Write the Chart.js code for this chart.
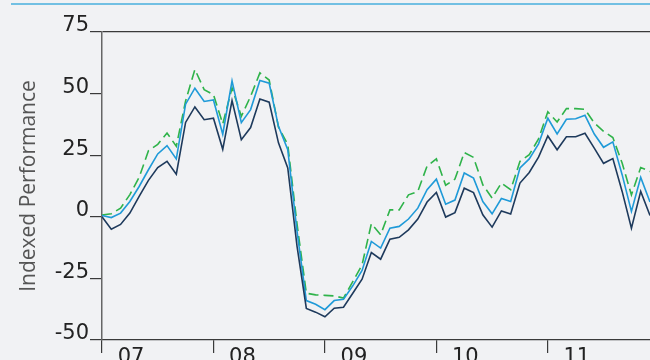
<!DOCTYPE html>
<html>
<head>
<meta charset="utf-8">
<script src="https://cdn.jsdelivr.net/npm/chart.js@4.4.1/dist/chart.umd.min.js"></script>
<style>
  html, body { margin: 0; padding: 0; background: #f1f2f4; overflow: hidden; }
  #wrap { position: relative; width: 650px; height: 360px; }
  #topline { position: absolute; left: 11px; right: 0; top: 3px; height: 0; border-top: 2px solid #72c0e3; }
  canvas { position: absolute; left: 0; top: 0; }
</style>
</head>
<body>
<div id="wrap">
  <div id="topline"></div>
  <canvas id="c" width="650" height="360"></canvas>
</div>
<script>
const years = ['07', '08', '09', '10', '11'];
const months = years.flatMap(y => ['01','02','03','04','05','06','07','08','09','10','11','12'].map(m => y + '-' + m));
const yTicks = [75, 50, 25, 0, -25, -50];

const seriesDark = [
  0, -5.0, -3.1, 1.5, 8.3, 14.8, 20.0, 22.5, 17.3, 38.3, 44.6, 39.4,
  40.0, 27.4, 47.2, 31.3, 36.2, 47.8, 46.5, 30.0, 19.8, -12, -37.2, -38.7,
  -40.6, -37.1, -36.7, -31.0, -25.3, -14.5, -17.2, -9.1, -8.3, -5.3, -0.9, 6.0,
  9.9, -0.1, 1.7, 11.6, 9.8, 0.8, -4.2, 2.4, 1.1, 13.7, 18.0, 24.2,
  32.8, 27.2, 32.5, 32.5, 33.9, 27.9, 21.7, 23.6, 10.3, -4.6, 10.3, 0.5
];
const seriesBlue = [
  0.5, -0.3, 1.5, 6.2, 12.3, 19.1, 25.5, 28.9, 23.5, 45.7, 52.2, 46.8,
  47.4, 33.5, 55.2, 38.2, 43.5, 55.3, 54.2, 36.7, 27.2, -6, -34.0, -35.5,
  -37.7, -34.0, -33.5, -28.0, -21.8, -10.0, -12.7, -4.6, -3.9, -0.9, 3.5, 11.0,
  15.3, 5.1, 6.8, 17.8, 15.7, 6.2, 1.2, 7.4, 6.2, 19.8, 23.5, 29.6,
  40.0, 33.6, 39.6, 39.8, 41.2, 33.6, 28.2, 30.4, 17.1, 2.2, 16.0, 6.0
];
const seriesGreen = [
  0.7, 1.2, 3.5, 9.0, 16.0, 26.8, 29.4, 34.0, 28.6, 47.0, 59.8, 51.6,
  49.6, 37.7, 52.3, 40.8, 48.9, 58.4, 55.5, 36.4, 29.3, -3, -31.0, -31.7,
  -31.9, -32.1, -33.0, -26.3, -19.5, -2.8, -7.3, 2.8, 2.8, 8.9, 10.3, 20.6,
  23.5, 12.8, 15.3, 26.1, 24.1, 13.0, 7.6, 13.7, 11.0, 22.5, 25.2, 31.6,
  42.6, 38.5, 43.9, 43.9, 43.6, 38.1, 34.7, 32.2, 21.8, 8.9, 20.0, 18.4
];

const axisColor = '#3a3a3a';
const tickFont = { family: 'DejaVu Sans', size: 21 };

new Chart(document.getElementById('c'), {
  type: 'line',
  data: {
    labels: months,
    datasets: [
      { data: seriesDark, borderColor: '#1e3a5c', borderWidth: 1.6, pointRadius: 0, tension: 0, fill: false },
      { data: seriesBlue, borderColor: '#1f9ad8', borderWidth: 1.6, pointRadius: 0, tension: 0, fill: false },
      { data: seriesGreen, borderColor: '#2fb34a', borderWidth: 1.6, borderDash: [10, 5], pointRadius: 0, tension: 0, fill: false }
    ]
  },
  options: {
    responsive: false,
    animation: false,
    events: [],
    layout: { padding: { top: 32, right: 0, left: 0, bottom: 0 } },
    plugins: { legend: { display: false }, tooltip: { enabled: false } },
    scales: {
      x: {
        type: 'category',
        offset: false,
        border: { display: true, color: axisColor, width: 1.2 },
        grid: {
          display: true,
          drawOnChartArea: false,
          drawTicks: true,
          tickLength: 13,
          tickColor: axisColor,
          lineWidth: 1.2
        },
        ticks: {
          autoSkip: false,
          maxRotation: 0,
          color: '#222',
          font: tickFont,
          padding: -8,
          labelOffset: 29,
          callback: function (v, i) { return i % 12 === 0 ? years[i / 12] : null; }
        },
        afterFit: s => { s.height = 20; }
      },
      y: {
        min: -50,
        max: 75,
        afterBuildTicks: s => { s.ticks = yTicks.map(v => ({ value: v })); },
        border: { display: true, color: '#666', width: 1.5 },
        grid: {
          drawTicks: true,
          tickLength: 12,
          tickColor: axisColor,
          lineWidth: 1.2,
          color: ctx => (ctx.tick && ctx.tick.value === 75) ? axisColor : 'rgba(0,0,0,0)'
        },
        ticks: {
          color: '#222',
          font: tickFont,
          padding: 1,
          labelOffset: -6
        },
        title: {
          display: true,
          text: 'Indexed Performance',
          color: '#555',
          font: { family: 'Open Sans', size: 21 },
          padding: { top: 16, bottom: 0 }
        },
        afterFit: s => { s.width = 102; }
      }
    }
  }
});
</script>
</body>
</html>
